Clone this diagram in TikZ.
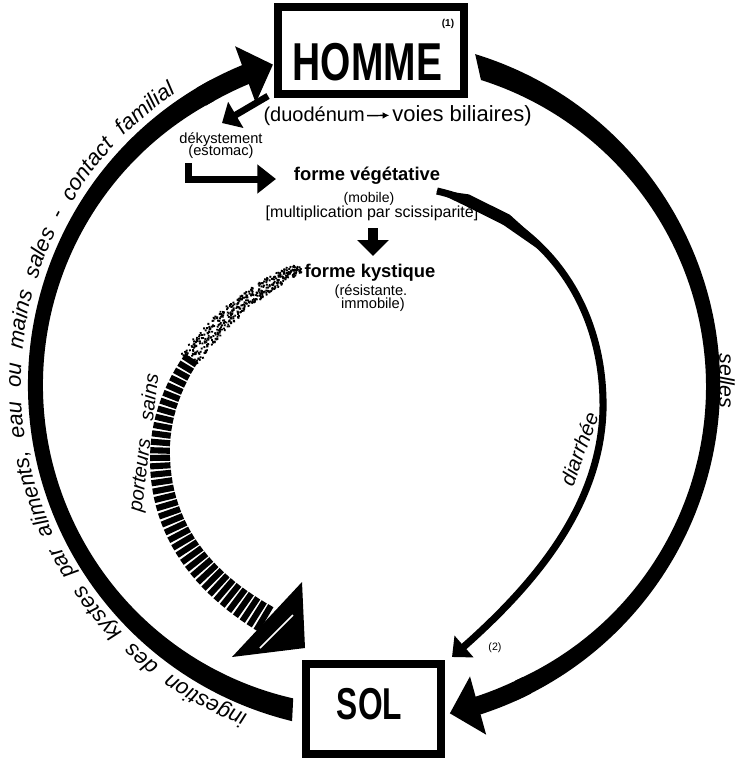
\documentclass[tikz,border=0pt]{standalone}
\usepackage{fontspec}
\setmainfont{Liberation Sans}
\usepackage{graphicx}
\usetikzlibrary{arrows.meta,bending,calc,decorations.text,decorations.markings}

\newcommand\pbArcFont{\itshape\fontsize{16.5}{20}\selectfont}
\newcommand\pbStipMark{%
  \pgfmathsetmacro\pbF{\pgfkeysvalueof{/pgf/decoration/mark info/distance from start}/\pgfdecoratedpathlength}%
  \pgfmathsetmacro\pbH{4.5+10*\pbF}%
  \foreach \pbk in {1,2,3,4}{%
    \pgfmathsetmacro\pbYa{\pbH*rand}\pgfmathsetmacro\pbXa{0.5*rand}%
    \fill (\pbXa pt,\pbYa pt) circle[radius=1pt];
  }%
}
\newcommand\pbStripeMark{%
  \pgfmathsetmacro\pbF{\pgfkeysvalueof{/pgf/decoration/mark info/distance from start}/\pgfdecoratedpathlength}%
  \pgfmathsetmacro\pbH{5.8+5*(\pbF-0.32)/0.68}%
  \fill (-2.3pt,-\pbH pt) rectangle (2.3pt,\pbH pt);
}

\begin{document}
\begin{tikzpicture}[x=0.75pt,y=0.75pt,
  box/.style={draw, line width=6pt, inner sep=0pt},
  bigtxt/.style={font=\bfseries, inner sep=0pt},
  lbl/.style={inner sep=0pt, anchor=base},
  small/.style={lbl, font=\fontsize{11}{12}\selectfont},
  bold/.style={lbl, font=\bfseries\fontsize{13.8}{15}\selectfont},
  arclbl/.style={inner sep=0pt, font=\itshape\fontsize{15}{18}\selectfont},
  bighead/.style={-{Triangle[length=22pt,width=44pt]}},
  fatarrow/.style={line width=5pt},
]
\pgfmathsetseed{7}
\fill[white] (0,0) rectangle (736,-761);
\useasboundingbox (0,0) rectangle (736,-761);
\coordinate (C) at (374,-385);
\coordinate (CL) at (364.4,-385);
\coordinate (CR) at (384.24,-386.8);

% boxes
\node[box, minimum width=139.5pt, minimum height=65.25pt] (homme) at (371,-50.5) {};
\node[bigtxt, font=\bfseries\fontsize{40}{40}\selectfont] (hommetxt) at (367.5,-62.5) {\scalebox{0.73}[1]{HOMME}};
\node[inner sep=0pt, font=\bfseries\fontsize{7.5}{8}\selectfont] (n1) at (448,-24) {(1)};
\node[box, minimum width=101.25pt, minimum height=67.5pt] (sol) at (373.5,-709) {};
\node[bigtxt, font=\bfseries\fontsize{33.5}{34}\selectfont] (soltxt) at (369.5,-704) {\scalebox{0.71}[1]{SOL}};
\node[inner sep=0pt, font=\fontsize{8}{9}\selectfont] (n2) at (495,-648) {(2)};

% outer cycle: left band (SOL -> HOMME), tapered
\fill (C) ++(256.3:346) arc[start angle=256.3, end angle=118, radius=346]
   -- ($(CL)+(118:321.4)$) arc[start angle=118, end angle=257.2, radius=321.4] -- cycle;
\draw[line width=15pt, bighead] (C) ++(121:336) arc[start angle=121, end angle=107.5, radius=336];
% right band (HOMME -> SOL), tapered
\fill (C) ++(73:346) arc[start angle=73, end angle=-66, radius=346]
   -- ($(CR)+(-66:321.7)$) arc[start angle=-66, end angle=72.5, radius=321.7] -- cycle;
\draw[line width=13.8pt, bighead] (C) ++(-63:337) arc[start angle=-63, end angle=-77, radius=337];

\path[decorate, decoration={text along path, text align={fit to path stretching spaces},
  text={|\pbArcFont|ingestion des kystes par aliments, eau ou mains sales - contact familial}}]
  (C) ++(249:353) arc[start angle=249, end angle=124, radius=353];

\node[arclbl, rotate=-90, font=\itshape\fontsize{16}{18}\selectfont] (selles) at (727,-381) {selles};

% inner texts
\node[lbl, anchor=base east, font=\fontsize{15}{18}\selectfont] (duo) at (365,-121) {(duodénum};
\node[lbl, anchor=base west, font=\fontsize{16.5}{18}\selectfont] (voies) at (392,-121) {voies biliaires)};
\draw[line width=1.1pt, -{Latex[length=5pt,width=5pt]}, shorten <=1.5pt, shorten >=2pt] (duo.east) -- (voies.west);

\node[small] (dek) at (221,-143) {dékystement};
\node[small] (esto) at (221,-155.5) {(estomac)};
\node[bold] (veg) at (367,-180) {forme végétative};
\node[lbl, font=\fontsize{10.5}{12}\selectfont] (mob) at (369,-202) {(mobile)};
\node[lbl, font=\fontsize{12}{13}\selectfont] (mult) at (372,-217) {[multiplication par scissiparité]};
\node[bold] (kys) at (370,-277) {forme kystique};
\node[small] (res) at (371,-295) {(résistante.};
\node[small] (imm) at (373,-308) {immobile)};

% small arrows
\coordinate (dekA) at (268,-96);
\coordinate (dekB) at (222,-123);
\draw[fatarrow, -{Triangle[length=12pt,width=22pt]}] (dekA) -- (dekB);
\coordinate (elA) at (188.5,-163);
\coordinate (elB) at (276,-179);
\draw[fatarrow, line width=5.25pt, -{Triangle[length=14pt,width=21pt]}] (elA) |- (elB);
\coordinate (dnA) at (373,-228);
\coordinate (dnB) at (373,-256);
\draw[line width=7.5pt, -{Triangle[length=12pt,width=23pt]}] (dnA) -- (dnB);

% diarrhee
\coordinate (diA) at (437,-191);
\coordinate (diB) at (452,-657);
\draw[line width=5.3pt, -{Triangle[length=12pt,width=21pt]}] (diA) .. controls (540,-215) and (605,-300) .. (603,-410) .. controls (600,-510) and (530,-590) .. (diB);
\fill (437.4,-190) -- (469,-194.4) -- (509.9,-214.8) -- (542.8,-244.5) -- (538.2,-249.1) -- (503.5,-225) -- (464.4,-205.4) -- (436.6,-192) -- cycle;
\node[arclbl, rotate=70, font=\itshape\fontsize{15.5}{18}\selectfont] (diar) at (579,-449) {diarrhée};

% porteurs sains
\coordinate (pbA) at (300,-268);
\coordinate (pbB) at (267,-620);
\path[decorate, decoration={markings,
   mark=between positions 0 and 0.32 step 1pt with {\pbStipMark},
   mark=between positions 0.32 and 1 step 6pt with {\pbStripeMark}}]
  (pbA) .. controls (230,-300) and (160,-370) .. (160,-455) .. controls (160,-540) and (215,-590) .. (pbB);
\fill (305,-648) -- (302,-582) -- (232,-657) -- cycle;
\draw[white, line width=1.3pt] (260,-648) -- (293,-615);
\node[arclbl, rotate=83] (porteurs) at (145,-443) {porteurs\hspace{14pt}sains};
\end{tikzpicture}
\end{document}
